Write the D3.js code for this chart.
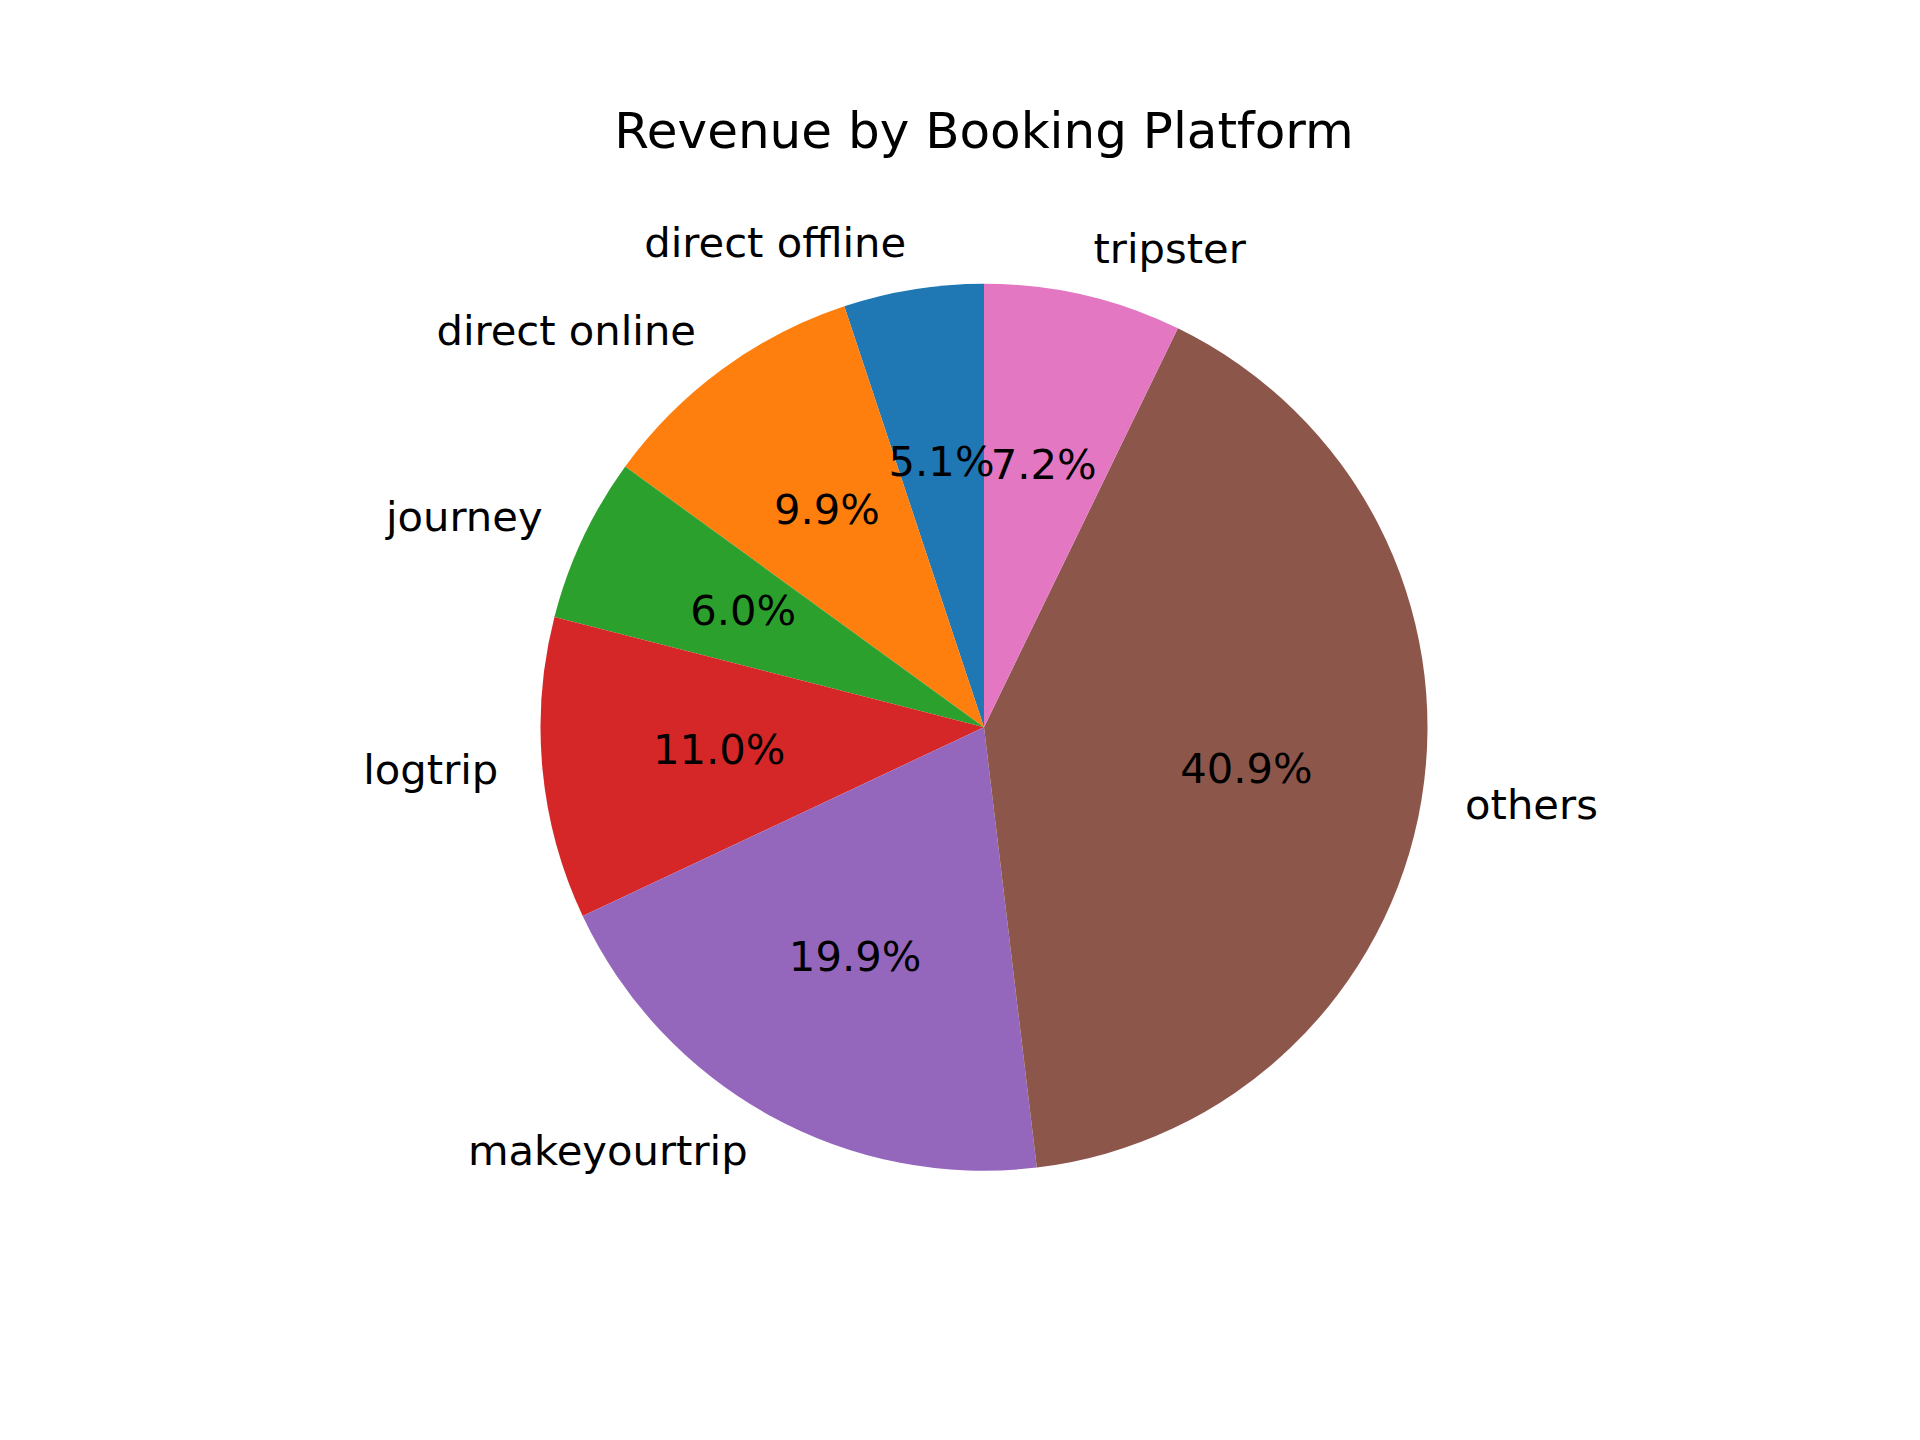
<!DOCTYPE html>
<html>
<head>
<meta charset="utf-8">
<script src="https://cdn.jsdelivr.net/npm/d3@7"></script>
<style>
  body { margin: 0; background: #fff; }
  text { font-family: "DejaVu Sans", sans-serif; fill: #000; }
</style>
</head>
<body>
<div id="chart"></div>
<script>
// data (share of revenue, %)
const platforms = ["direct offline", "direct online", "journey", "logtrip", "makeyourtrip", "others", "tripster"];
const revenueShare = [5.1, 9.9, 6.0, 11.0, 19.9, 40.9, 7.2];
const colors = ["#1f77b4", "#ff7f0e", "#2ca02c", "#d62728", "#9467bd", "#8c564b", "#e377c2"];

const width = 1920, height = 1440;
const cx = 984, cy = 727.2, radius = 443.5;

const svg = d3.select("#chart").append("svg")
  .attr("width", width)
  .attr("height", height);

svg.append("text")
  .attr("x", cx)
  .attr("y", 148)
  .attr("text-anchor", "middle")
  .style("font-size", "50px")
  .text("Revenue by Booking Platform");

const rows = platforms.map((p, i) => ({ name: p, value: revenueShare[i], color: colors[i] }));

// counterclockwise from 12 o'clock, like matplotlib startangle=90
const pie = d3.pie().sort(null).value(d => d.value).startAngle(0).endAngle(-2 * Math.PI);
const arcs = pie(rows);

const arc = d3.arc().innerRadius(0).outerRadius(radius);

const g = svg.append("g").attr("transform", `translate(${cx},${cy})`);

g.selectAll("path")
  .data(arcs)
  .join("path")
  .attr("d", arc)
  .attr("fill", d => d.data.color);

const mid = d => (d.startAngle + d.endAngle) / 2;

// outer labels at 1.1 r
g.selectAll("text.lbl")
  .data(arcs)
  .join("text")
  .attr("class", "lbl")
  .attr("x", d => Math.sin(mid(d)) * radius * 1.1)
  .attr("y", d => -Math.cos(mid(d)) * radius * 1.1)
  .attr("dy", "0.27em")
  .attr("text-anchor", d => Math.sin(mid(d)) > 0 ? "start" : "end")
  .style("font-size", "41.7px")
  .text(d => d.data.name);

// percentages at 0.6 r
g.selectAll("text.pct")
  .data(arcs)
  .join("text")
  .attr("class", "pct")
  .attr("x", d => Math.sin(mid(d)) * radius * 0.6)
  .attr("y", d => -Math.cos(mid(d)) * radius * 0.6)
  .attr("dy", "0.27em")
  .attr("text-anchor", "middle")
  .style("font-size", "41.7px")
  .text(d => d.data.value.toFixed(1) + "%");
</script>
</body>
</html>
